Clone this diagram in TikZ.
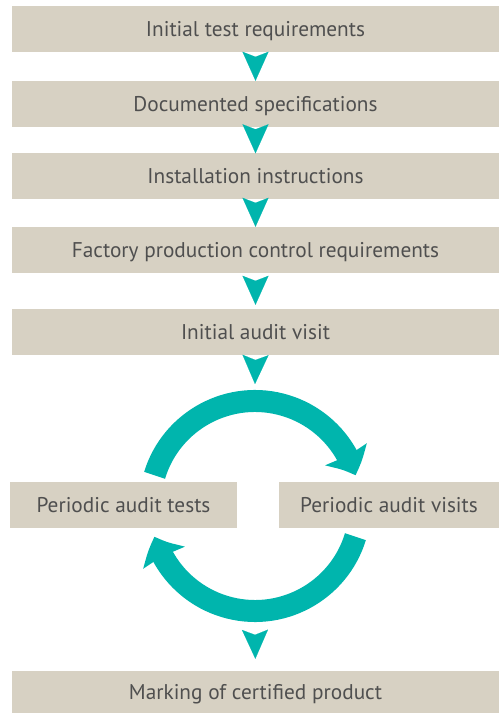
\documentclass[tikz,border=0pt]{standalone}
\usepackage{fontspec}
\setmainfont{PT Sans}
\usetikzlibrary{arrows.meta,bending,calc}
\definecolor{boxgray}{HTML}{D7D1C3}
\definecolor{cycleteal}{HTML}{00B5AD}
\definecolor{textgray}{HTML}{4F4F4F}

\begin{document}
\begin{tikzpicture}[x=1pt,y=1pt,
  reqbox/.style={fill=boxgray,text=textgray,minimum height=46pt,inner sep=0pt,
    text height=14.9pt,text depth=0pt,font=\fontsize{21.3}{24}\selectfont},
  chev/.style={draw=cycleteal,line width=0.1pt,
    -{Stealth[length=29pt,width=26pt,inset=5pt,fill=cycleteal]}},
  cyclearc/.style={draw=cycleteal,line width=22pt,
    -{Stealth[length=23pt,width=46pt,inset=2pt,bend,fill=cycleteal]}}]
  \pgfmathsetmacro{\Width}{487};
  \pgfmathsetmacro{\Radius}{105};
  \useasboundingbox (0,0) rectangle (499,713);
  % 
  \node[reqbox,minimum width=\Width] (init) at (255.5,684) {Initial test requirements};
  \node[reqbox,minimum width=\Width] (spec) at (255.5,609) {Documented specifications};
  \node[reqbox,minimum width=\Width] (inst) at (255.5,536.5) {Installation instructions};
  \node[reqbox,minimum width=\Width] (fpc) at (255.5,463) {Factory production control requirements};
  \node[reqbox,minimum width=\Width] (audit) at (255.5,381) {Initial audit visit};
  \node[reqbox,minimum width=227] (tests) at (123.5,208) {Periodic audit tests};
  \node[reqbox,minimum width=220] (visits) at (389,208) {Periodic audit visits};
  \node[reqbox,minimum width=\Width,minimum height=42pt] (mark) at (255.5,21) {Marking of certified product};
  % 
  \draw[chev,shorten <=6pt] (init.south) -- (spec.north);
  \draw[chev,shorten <=6pt] (spec.south) -- (inst.north);
  \draw[chev,shorten <=6pt] (inst.south) -- (fpc.north);
  \draw[chev,shorten <=10pt,shorten >=4pt] (fpc.south) -- (audit.north);
  % 
  \coordinate (hub) at (255,207);
  \coordinate (into) at ($(hub)+(0,122)$);
  \coordinate (outof) at ($(hub)+(0,-126)$);
  \draw[chev,shorten <=8pt] (audit.south) -- (into);
  \draw[cyclearc] ([shift={(163:\Radius)}]hub) arc[start angle=163,end angle=17,radius=\Radius];
  \draw[cyclearc] ([shift={(-17:\Radius)}]hub) arc[start angle=-17,end angle=-163,radius=\Radius];
  \draw[chev,shorten <=6pt,shorten >=12pt] (outof) -- (mark.north);
\end{tikzpicture}
\end{document}
